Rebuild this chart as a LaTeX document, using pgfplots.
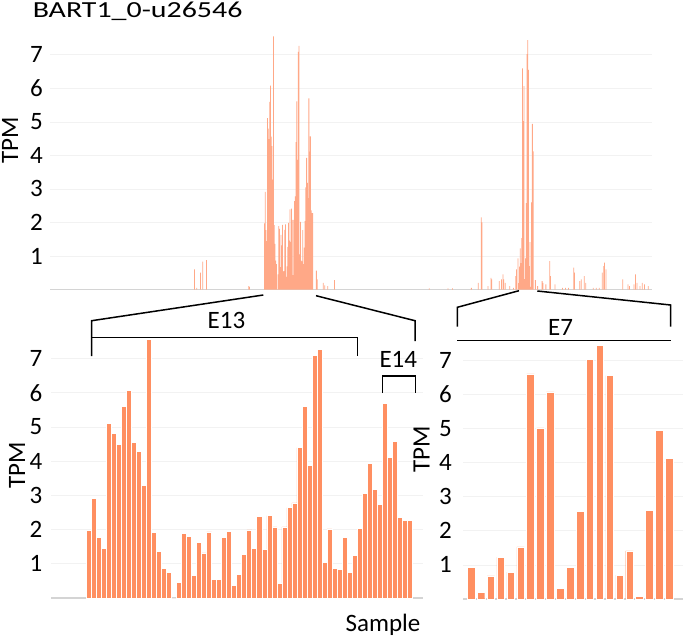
\documentclass[border=0pt]{standalone}
\usepackage{pgfplots}
\pgfplotsset{compat=1.18}
\usepackage{pgfplotstable}
\usepackage{fontspec}
\setmainfont{Carlito}
\definecolor{barc}{HTML}{FF8F61}
\definecolor{topc}{HTML}{FFA887}
\definecolor{gridc}{HTML}{F2F2F2}
\definecolor{basec}{HTML}{D4D4D4}

% E13 + E14 samples (bottom-left panel)
\pgfplotstableread{
i v
1 1.97
2 2.91
3 1.77
4 1.44
5 5.11
6 4.80
7 4.49
8 5.60
9 6.08
10 4.56
11 4.28
12 3.28
13 7.55
14 1.92
15 1.36
16 0.86
17 0.76
18 0
19 0.45
20 1.89
21 1.81
22 0.67
23 1.63
24 1.32
25 1.93
26 0.54
27 0.55
28 1.78
29 1.94
30 0.38
31 0.69
32 1.27
33 1.99
34 1.46
35 2.39
36 1.42
37 2.41
38 2.08
39 0.43
40 2.08
41 2.64
42 2.78
43 4.40
44 5.61
45 3.87
46 7.09
47 7.27
48 1.05
49 2.02
50 0.86
51 0.84
52 1.77
53 0.76
54 1.25
55 2.04
56 3.05
57 3.93
58 3.18
59 2.73
60 5.70
61 4.11
62 4.57
63 2.36
64 2.28
65 2.28
}\ethirteen

% E7 samples (bottom-right panel)
\pgfplotstableread{
i v
1 0.93
2 0.19
3 0.68
4 1.23
5 0.79
6 1.53
7 6.60
8 5.02
9 6.07
10 0.31
11 0.93
12 2.58
13 7.02
14 7.44
15 6.55
16 0.70
17 1.41
18 0.08
19 2.60
20 4.94
21 4.12
}\eseven

% other samples of the top panel (sample index, TPM)
\pgfplotstableread{
i v
192 0.60
195 0.05
200 0.50
203 0.83
208 0.88
264 0.10
265 0.08
354 0.56
355 0.30
363 0.20
365 0.12
369 0.10
378 0.28
504 0.03
529 0.03
535 0.03
560 0.05
569 0.20
573 2.15
574 2.00
582 0.10
586 0.35
587 0.30
597 0.25
600 0.30
602 0.45
603 0.30
605 0.20
611 0.10
616 0.05
619 0.40
620 0.60
645 0.28
648 0.10
654 0.25
655 0.20
659 0.15
664 0.85
665 0.40
671 0.15
681 0.05
685 0.05
689 0.05
696 0.65
697 0.50
704 0.25
706 0.30
710 0.40
712 0.20
722 0.05
726 0.05
730 0.05
734 0.50
736 0.70
737 0.80
739 0.60
761 0.30
768 0.15
770 0.10
776 0.15
778 0.45
780 0.20
784 0.10
787 0.20
790 0.15
795 0.10
}\topother

\pgfplotsset{
  panel/.style={
    scale only axis,
    enlargelimits=false,
    axis line style={draw=none},
    major tick length=0pt,
    xtick=\empty,
    ytick={1,...,7},
    ymin=0,
    ymajorgrids,
    major grid style={gridc, line width=0.8pt},
    /pgf/number format/assume math mode=true,
    yticklabel style={font=\fontsize{25}{25}\selectfont, anchor=east, inner sep=0pt},
  },
}

\begin{document}
\begin{tikzpicture}
\useasboundingbox (0pt,0pt) rectangle (685pt,-640pt);

% ---------- top overview panel ----------
\begin{axis}[panel,
  at={(50pt,-289.5pt)}, anchor=south west,
  width=602pt, height=271.5pt,
  xmin=0, xmax=800, ymax=8.1,
  yticklabel style={xshift=-7pt}]
  \draw[basec, line width=1.2pt] (rel axis cs:0,0) -- (rel axis cs:1,0);
  \draw[gridc!80!gray, line width=0.8pt] (rel axis cs:1,-0.03) -- (rel axis cs:1,1);
  \addplot[ybar, bar shift=0pt, bar width=0.8pt, fill=topc, draw=none]
    table[x=i, y=v]{\topother};
  \addplot[ybar, bar shift=0pt, bar width=0.8pt, fill=topc, draw=none]
    table[x expr=\thisrow{i}+284, y=v]{\ethirteen};
  \addplot[ybar, bar shift=0pt, bar width=0.8pt, fill=topc, draw=none]
    table[x expr=\thisrow{i}+621, y=v]{\eseven};
\end{axis}

% ---------- E13 / E14 panel ----------
\begin{axis}[panel,
  at={(51pt,-598pt)}, anchor=south west,
  width=372pt, height=266.8pt,
  xmin=-6.5, xmax=67.6, ymax=7.8,
  yticklabel style={xshift=-8.5pt}]
  \draw[basec, line width=1.2pt] (rel axis cs:0,0) -- (rel axis cs:1,0);
  \addplot[ybar, bar shift=0pt, bar width=5.02pt, fill=barc, draw=white, line width=0.7pt]
    table[x=i, y=v]{\ethirteen};
\end{axis}

% ---------- E7 panel ----------
\begin{axis}[panel,
  at={(463pt,-599pt)}, anchor=south west,
  width=220pt, height=262.6pt,
  xmin=0.19, xmax=22.4, ymax=7.7,
  yticklabel style={xshift=-11pt}]
  \draw[basec, line width=1.2pt] (rel axis cs:0,0) -- (rel axis cs:1,0);
  \addplot[ybar, bar shift=0pt, bar width=7.6pt, fill=barc, draw=white, line width=0.4pt]
    table[x=i, y=v]{\eseven};
\end{axis}

% ---------- annotations ----------
\begin{scope}[x=1pt, y=-1pt, line width=1.5pt, black]
  \node[anchor=base west, inner sep=0pt, font=\fontsize{23}{23}\selectfont] at (32,17.3) {\scalebox{1.3}[1]{BART1\_0-u26546}};
  \node[rotate=90, inner sep=0pt, font=\fontsize{25}{25}\selectfont] at (10,140) {TPM};
  \node[rotate=90, inner sep=0pt, font=\fontsize{25}{25}\selectfont] at (17,465) {TPM};
  \node[rotate=90, inner sep=0pt, font=\fontsize{25}{25}\selectfont] at (421.7,449.5) {TPM};
  \node[anchor=base, inner sep=0pt, font=\fontsize{25}{25}\selectfont] at (383,631) {Sample};
  \node[anchor=base, inner sep=0pt, font=\fontsize{25}{25}\selectfont] at (226.5,328) {E13};
  \node[anchor=base, inner sep=0pt, font=\fontsize{25}{25}\selectfont] at (398.3,367.3) {E14};
  \node[anchor=base, inner sep=0pt, font=\fontsize{25}{25}\selectfont] at (560.5,335) {E7};
  % E13 / E14 zoom connectors and brackets
  \draw (91.7,356) -- (91.7,320.7) -- (263.3,295);
  \draw (316,295.7) -- (415,320.7) -- (415,341);
  \draw (91.7,337.3) -- (357.7,337.3) -- (357.7,356);
  \draw (382.7,393) -- (382.7,376) -- (415.7,376) -- (415.7,393);
  % E7 zoom connectors and bracket
  \draw (457.3,326.7) -- (457.3,307.3) -- (519,290.7);
  \draw (537.3,291) -- (670.7,305) -- (670.7,326.7);
  \draw (457.3,340.7) -- (670.7,340.7);
\end{scope}
\end{tikzpicture}
\end{document}
